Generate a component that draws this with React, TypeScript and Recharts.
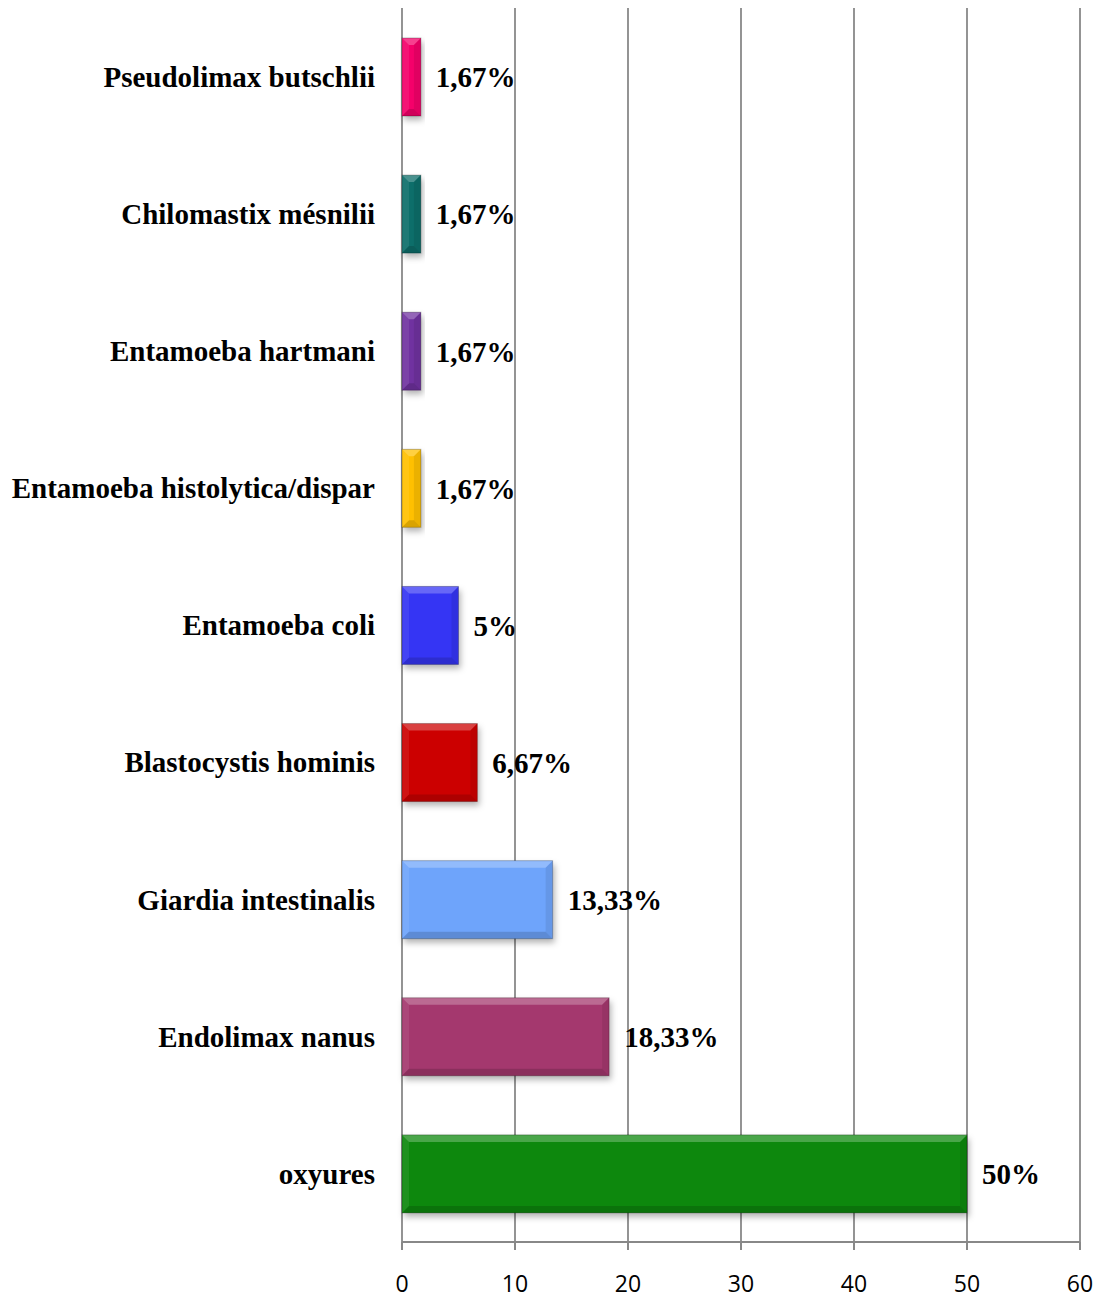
import { BarChart, Bar, XAxis, YAxis, CartesianGrid, Cell, LabelList } from 'recharts';

const CATEGORIES = [
  'Pseudolimax butschlii',
  'Chilomastix mésnilii',
  'Entamoeba hartmani',
  'Entamoeba histolytica/dispar',
  'Entamoeba coli',
  'Blastocystis hominis',
  'Giardia intestinalis',
  'Endolimax nanus',
  'oxyures',
];
const VALUES = [1.67, 1.67, 1.67, 1.67, 5, 6.67, 13.33, 18.33, 50];
const COLORS = ['#f5056b', '#0b6e6a', '#7030a0', '#ffc000', '#3636f4', '#cc0000', '#6ea4fb', '#a4386e', '#088808'];
const X_TICKS = [0, 10, 20, 30, 40, 50, 60];
const BOUNDARY_TICKS = [0, 1, 2, 3, 4, 5, 6, 7, 8, 9];

const data = CATEGORIES.map((name, i) => ({ name, value: VALUES[i] }));

const AXIS = '#888888';
const SERIF = '"Liberation Serif", "Times New Roman", serif';

const fmt = (v: any) => {
  const n = Number(v);
  return Number.isInteger(n) ? `${n}%` : `${n.toFixed(2).replace('.', ',')}%`;
};

// bevelled bar, roughly like the office "3D" fill
const BevelBar = (props: any) => {
  const { x, y, width, height, fill } = props;
  if (!width || width <= 0) return null;
  const b = Math.min(7, width / 2, height / 2);
  const r = x + width;
  const btm = y + height;
  return (
    <g>
      <defs>
        <filter id="barShadow" x="-10%" y="-10%" width="130%" height="140%">
          <feDropShadow dx="2" dy="4" stdDeviation="3" floodColor="#000" floodOpacity="0.3" />
        </filter>
      </defs>
      <rect x={x} y={y} width={width} height={height} fill={fill} filter="url(#barShadow)" />
      <polygon points={`${x},${y} ${r},${y} ${r - b},${y + b} ${x + b},${y + b}`} fill="#fff" fillOpacity={0.25} />
      <polygon points={`${x},${y} ${x + b},${y + b} ${x + b},${btm - b} ${x},${btm}`} fill="#fff" fillOpacity={0.08} />
      <polygon points={`${r},${y} ${r},${btm} ${r - b},${btm - b} ${r - b},${y + b}`} fill="#000" fillOpacity={0.08} />
      <polygon points={`${x},${btm} ${r},${btm} ${r - b},${btm - b} ${x + b},${btm - b}`} fill="#000" fillOpacity={0.15} />
      <rect x={x} y={y} width={width} height={height} fill="none" stroke="#000" strokeOpacity={0.25} strokeWidth={1} />
    </g>
  );
};

export default function App() {
  return (
    <div style={{ position: 'absolute', left: 0, top: 0, background: '#fff' }}>
      <BarChart
        width={1102}
        height={1298}
        data={data}
        layout="vertical"
        margin={{ top: 8, right: 22, left: 0, bottom: 0 }}
        barSize={78}
      >
        <CartesianGrid horizontal={false} stroke={AXIS} strokeWidth={1.8} />
        <XAxis
          type="number"
          domain={[0, 60]}
          ticks={X_TICKS}
          height={56}
          tickSize={8}
          tickMargin={26}
          stroke={AXIS}
          axisLine={{ stroke: AXIS, strokeWidth: 2 }}
          tickLine={{ stroke: AXIS, strokeWidth: 2 }}
          tick={{ fill: '#000', fontSize: 23, fontFamily: '"Open Sans", sans-serif' }}
        />
        <YAxis
          yAxisId="bound"
          type="number"
          domain={[0, 9]}
          ticks={BOUNDARY_TICKS}
          allowDataOverflow
          width={0}
          tick={false}
          tickSize={9}
          axisLine={{ stroke: AXIS, strokeWidth: 2 }}
          tickLine={{ stroke: AXIS, strokeWidth: 2 }}
        />
        <YAxis
          yAxisId="cat"
          type="category"
          dataKey="name"
          width={402}
          axisLine={false}
          tickLine={false}
          tickSize={9}
          tickMargin={18}
          interval={0}
          tick={{ fill: '#000', fontSize: 29, fontWeight: 'bold', fontFamily: SERIF }}
        />
        <Bar yAxisId="cat" dataKey="value" shape={<BevelBar />} isAnimationActive={false}>
          {data.map((d, i) => (
            <Cell key={d.name} fill={COLORS[i]} />
          ))}
          <LabelList
            dataKey="value"
            position="right"
            offset={15}
            formatter={fmt}
            style={{ fill: '#000', fontSize: 29, fontWeight: 'bold', fontFamily: SERIF }}
          />
        </Bar>
      </BarChart>
    </div>
  );
}
